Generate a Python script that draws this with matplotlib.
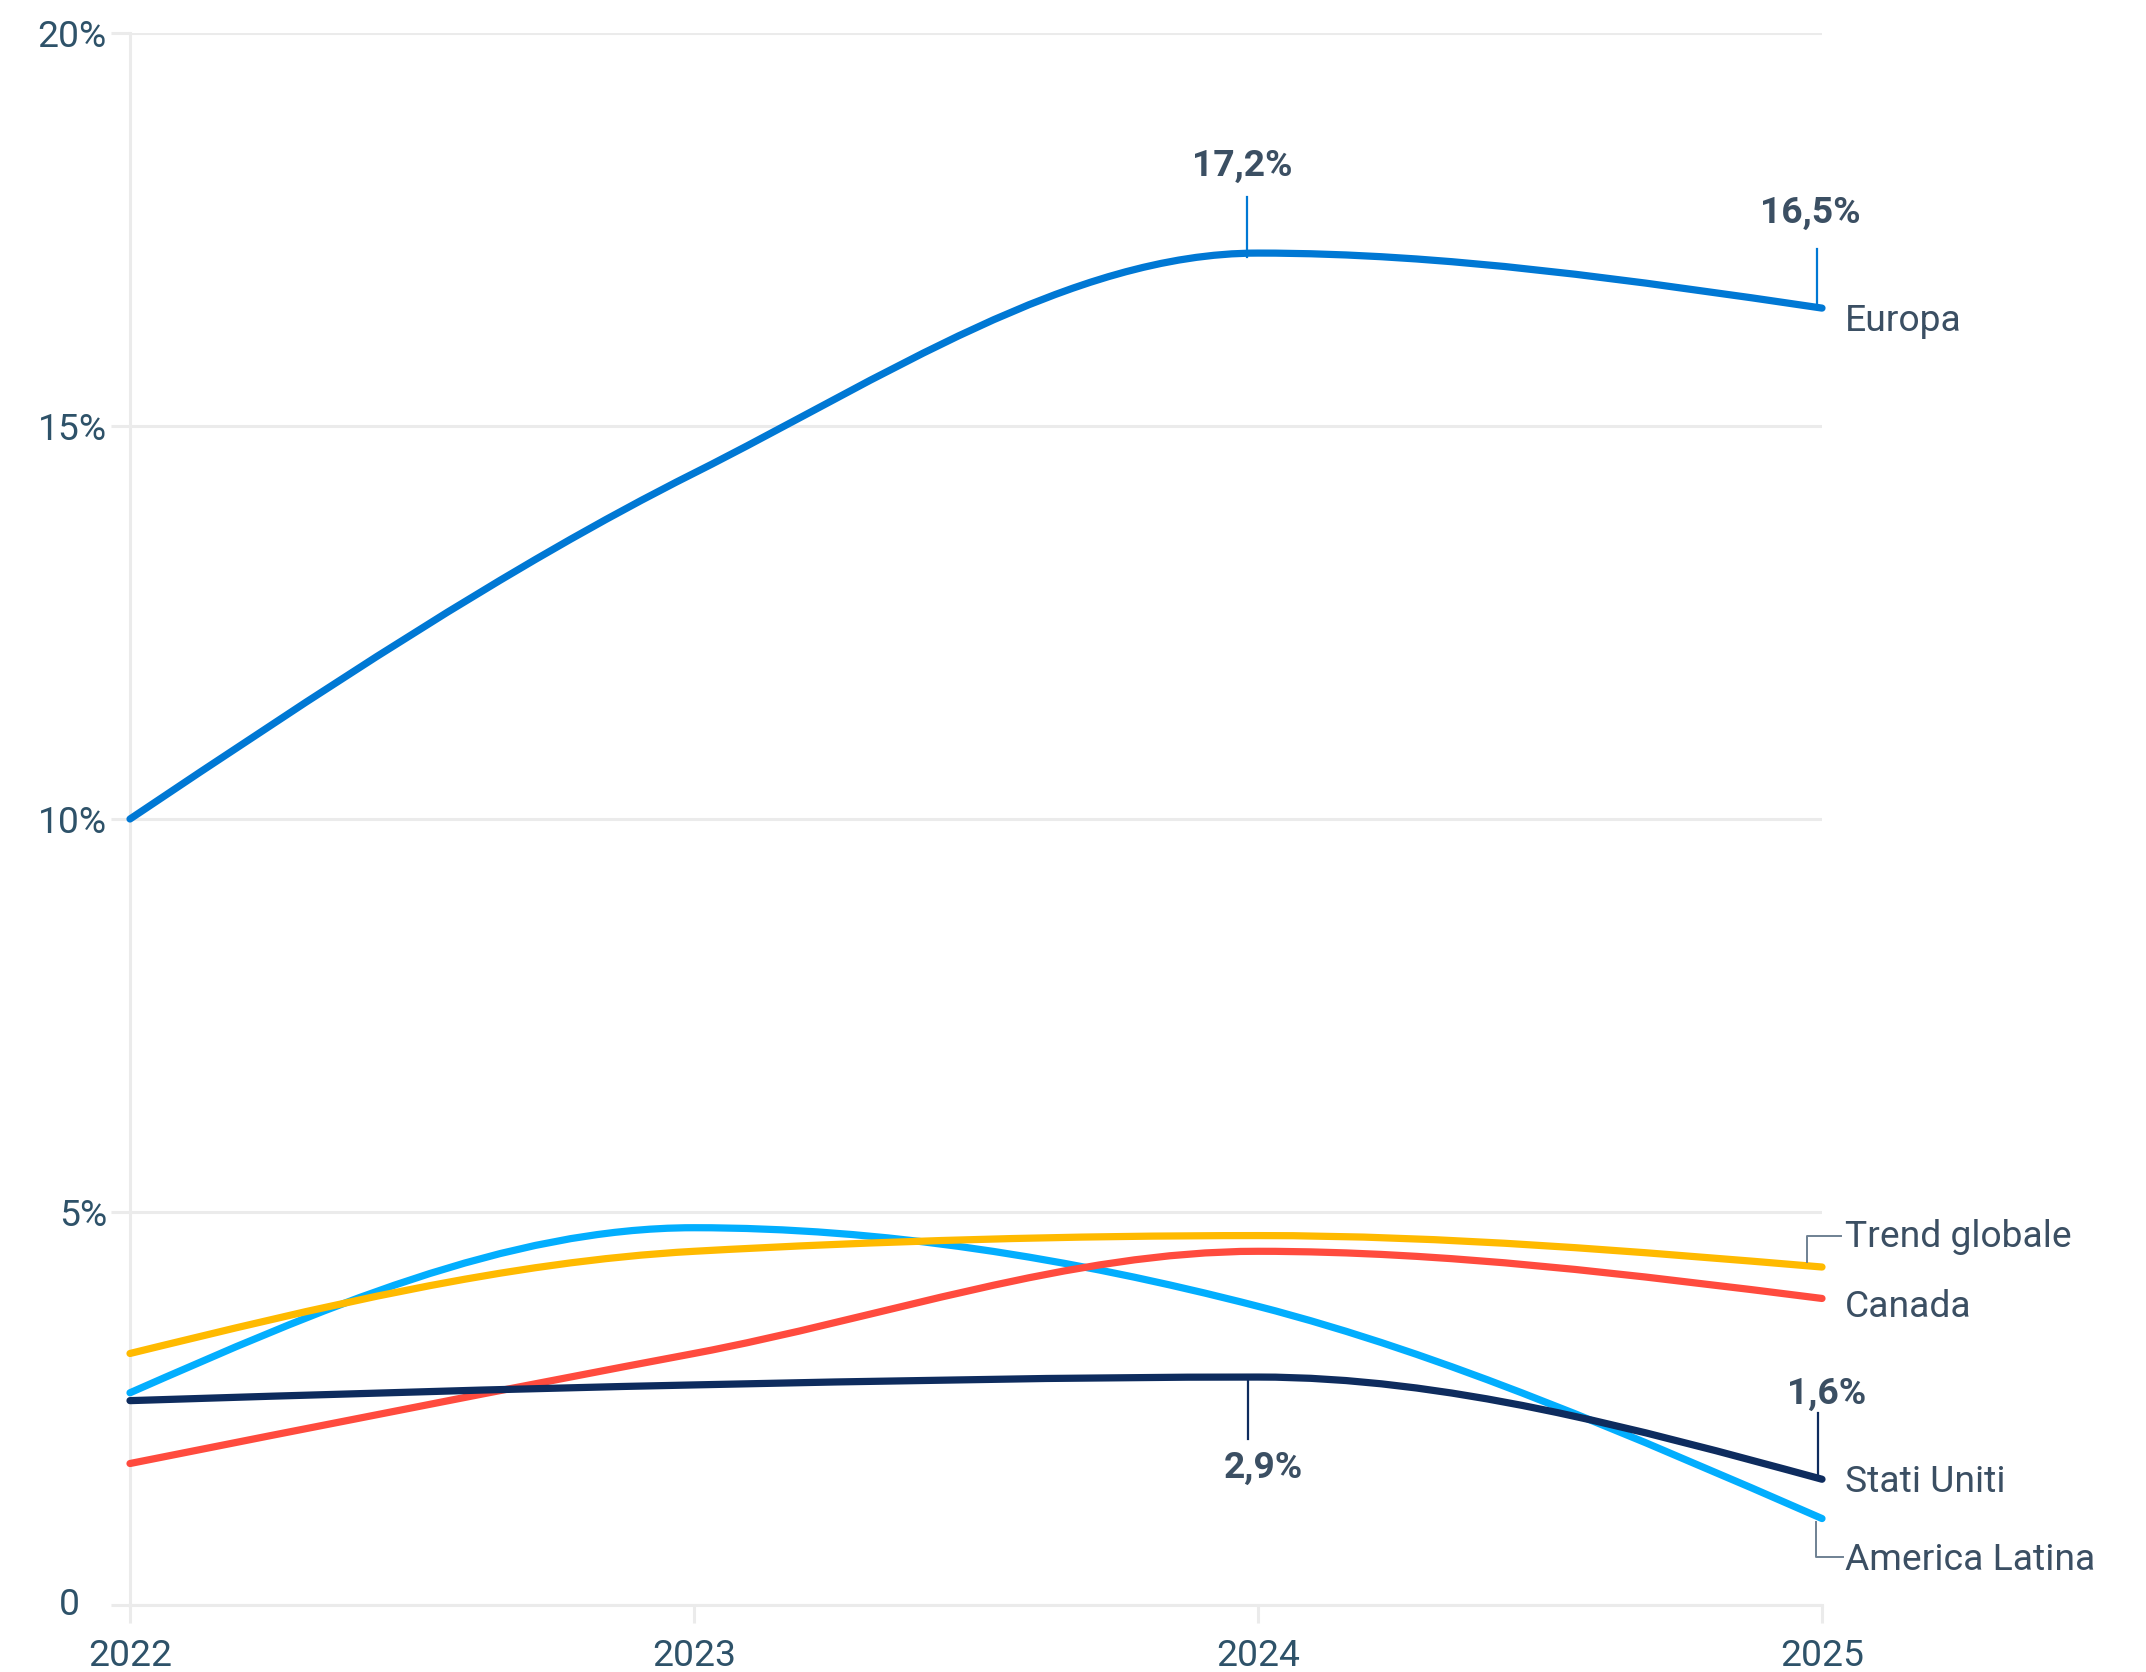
import numpy as np
import matplotlib
matplotlib.use("Agg")
import matplotlib.pyplot as plt
from matplotlib.path import Path
from matplotlib.patches import PathPatch
from matplotlib.lines import Line2D
from matplotlib.transforms import IdentityTransform

plt.rcParams["font.family"] = ["Roboto", "DejaVu Sans"]

# data
years = [2022, 2023, 2024, 2025]
europa = [10.0, 14.4, 17.2, 16.5]
trend_globale = [3.2, 4.5, 4.7, 4.3]
canada = [1.8, 3.2, 4.5, 3.9]
america_latina = [2.7, 4.8, 3.8, 1.1]
stati_uniti = [2.6, 2.8, 2.9, 1.6]
yticks = [0, 5, 10, 15, 20]
ytick_labels = ["", "5%", "10%", "15%", "20%"]

GRID = "#ebebeb"
TICK_TXT = "#2e5269"
TXT = "#3b4f63"
CONN = "#6f8193"
FS = 13.4


def monotone_path(xs, ys):
    # cubic bezier segments, same as d3 curveMonotoneX
    xs = np.asarray(xs, float)
    ys = np.asarray(ys, float)
    n = len(xs)
    h = np.diff(xs)
    s = np.diff(ys) / h
    t = np.zeros(n)
    for i in range(1, n - 1):
        p = (s[i - 1] * h[i] + s[i] * h[i - 1]) / (h[i - 1] + h[i])
        t[i] = (np.sign(s[i - 1]) + np.sign(s[i])) * min(abs(s[i - 1]), abs(s[i]), 0.5 * abs(p))
    t[0] = (3 * s[0] - t[1]) / 2
    t[-1] = (3 * s[-1] - t[-2]) / 2
    verts = [(xs[0], ys[0])]
    codes = [Path.MOVETO]
    for i in range(n - 1):
        dx = h[i] / 3
        verts += [(xs[i] + dx, ys[i] + dx * t[i]),
                  (xs[i + 1] - dx, ys[i + 1] - dx * t[i + 1]),
                  (xs[i + 1], ys[i + 1])]
        codes += [Path.CURVE4] * 3
    return Path(verts, codes)


fig = plt.figure(figsize=(10.73, 8.36), dpi=200)
ax = fig.add_axes([130 / 2146, 1 - 1605 / 1672, (1822 - 130) / 2146, (1605 - 33) / 1672])
ax.set_xlim(2022, 2025)
ax.set_ylim(0, 20)

series = [
    (europa, "#0078d4"),
    (america_latina, "#02aefe"),
    (canada, "#ff4b3e"),
    (trend_globale, "#ffba00"),
    (stati_uniti, "#0e2c5e"),
]
for vals, col in series:
    ax.add_patch(PathPatch(monotone_path(years, vals), facecolor="none", edgecolor=col,
                           lw=2.6, capstyle="round", joinstyle="round", clip_on=False, zorder=3))

ax.set_xticks(years)
ax.set_xticklabels([str(y) for y in years])
ax.set_yticks(yticks)
ax.set_yticklabels(ytick_labels)
ax.tick_params(axis="both", colors=GRID, labelcolor=TICK_TXT, labelsize=13.4, width=1.1)
ax.tick_params(axis="x", length=6.5, pad=5.5)
ax.tick_params(axis="y", length=6.8, pad=1.5)
ax.yaxis.grid(True, color=GRID, lw=1.1, zorder=0)
ax.set_axisbelow(True)
for side in ["top", "right"]:
    ax.spines[side].set_visible(False)
for side in ["left", "bottom"]:
    ax.spines[side].set_color(GRID)
    ax.spines[side].set_linewidth(1.1)

ax.annotate("0", xy=(0, 0), xycoords=("axes fraction", "data"), xytext=(-50, 0),
            textcoords="offset pixels", ha="right", va="center", fontsize=13.4, color=TICK_TXT)


def px_line(anchor, pts, color, lw):
    x0, y0 = ax.transData.transform(anchor)
    xs = [x0 + dx for dx, dy in pts]
    ys = [y0 - dy for dx, dy in pts]
    ax.add_line(Line2D(xs, ys, transform=IdentityTransform(), color=color, lw=lw, clip_on=False, zorder=4))


def label(anchor, text, dx, dy, bold=False, ha="left"):
    ax.annotate(text, xy=anchor, xytext=(dx, -dy), textcoords="offset pixels", ha=ha, va="center",
                fontsize=FS, color=TXT, fontweight="bold" if bold else "normal")


# value callouts
px_line((2024, europa[2]), [(-11, 4), (-11, -56)], "#0078d4", 0.8)
label((2024, europa[2]), "17,2%", -16, -87, bold=True, ha="center")
px_line((2025, europa[3]), [(-5, 0), (-5, -59)], "#0078d4", 0.8)
label((2025, europa[3]), "16,5%", -12, -95, bold=True, ha="center")
px_line((2024, stati_uniti[2]), [(-10, 0), (-10, 62)], "#0e2c5e", 0.8)
label((2024, stati_uniti[2]), "2,9%", 5, 91, bold=True, ha="center")
px_line((2025, stati_uniti[3]), [(-4, 0), (-4, -66)], "#0e2c5e", 0.8)
label((2025, stati_uniti[3]), "1,6%", 5, -85, bold=True, ha="center")

# series names
label((2025, europa[3]), "Europa", 23, 13)
label((2025, trend_globale[3]), "Trend globale", 23, -30)
px_line((2025, trend_globale[3]), [(-15, -5), (-15, -31), (19, -31)], CONN, 0.7)
label((2025, canada[3]), "Canada", 23, 9)
label((2025, stati_uniti[3]), "Stati Uniti", 23, 3)
label((2025, america_latina[3]), "America Latina", 23, 41)
px_line((2025, america_latina[3]), [(-6, 3), (-6, 38), (21, 38)], CONN, 0.7)

fig.savefig("out.png", dpi=200, facecolor="white")
